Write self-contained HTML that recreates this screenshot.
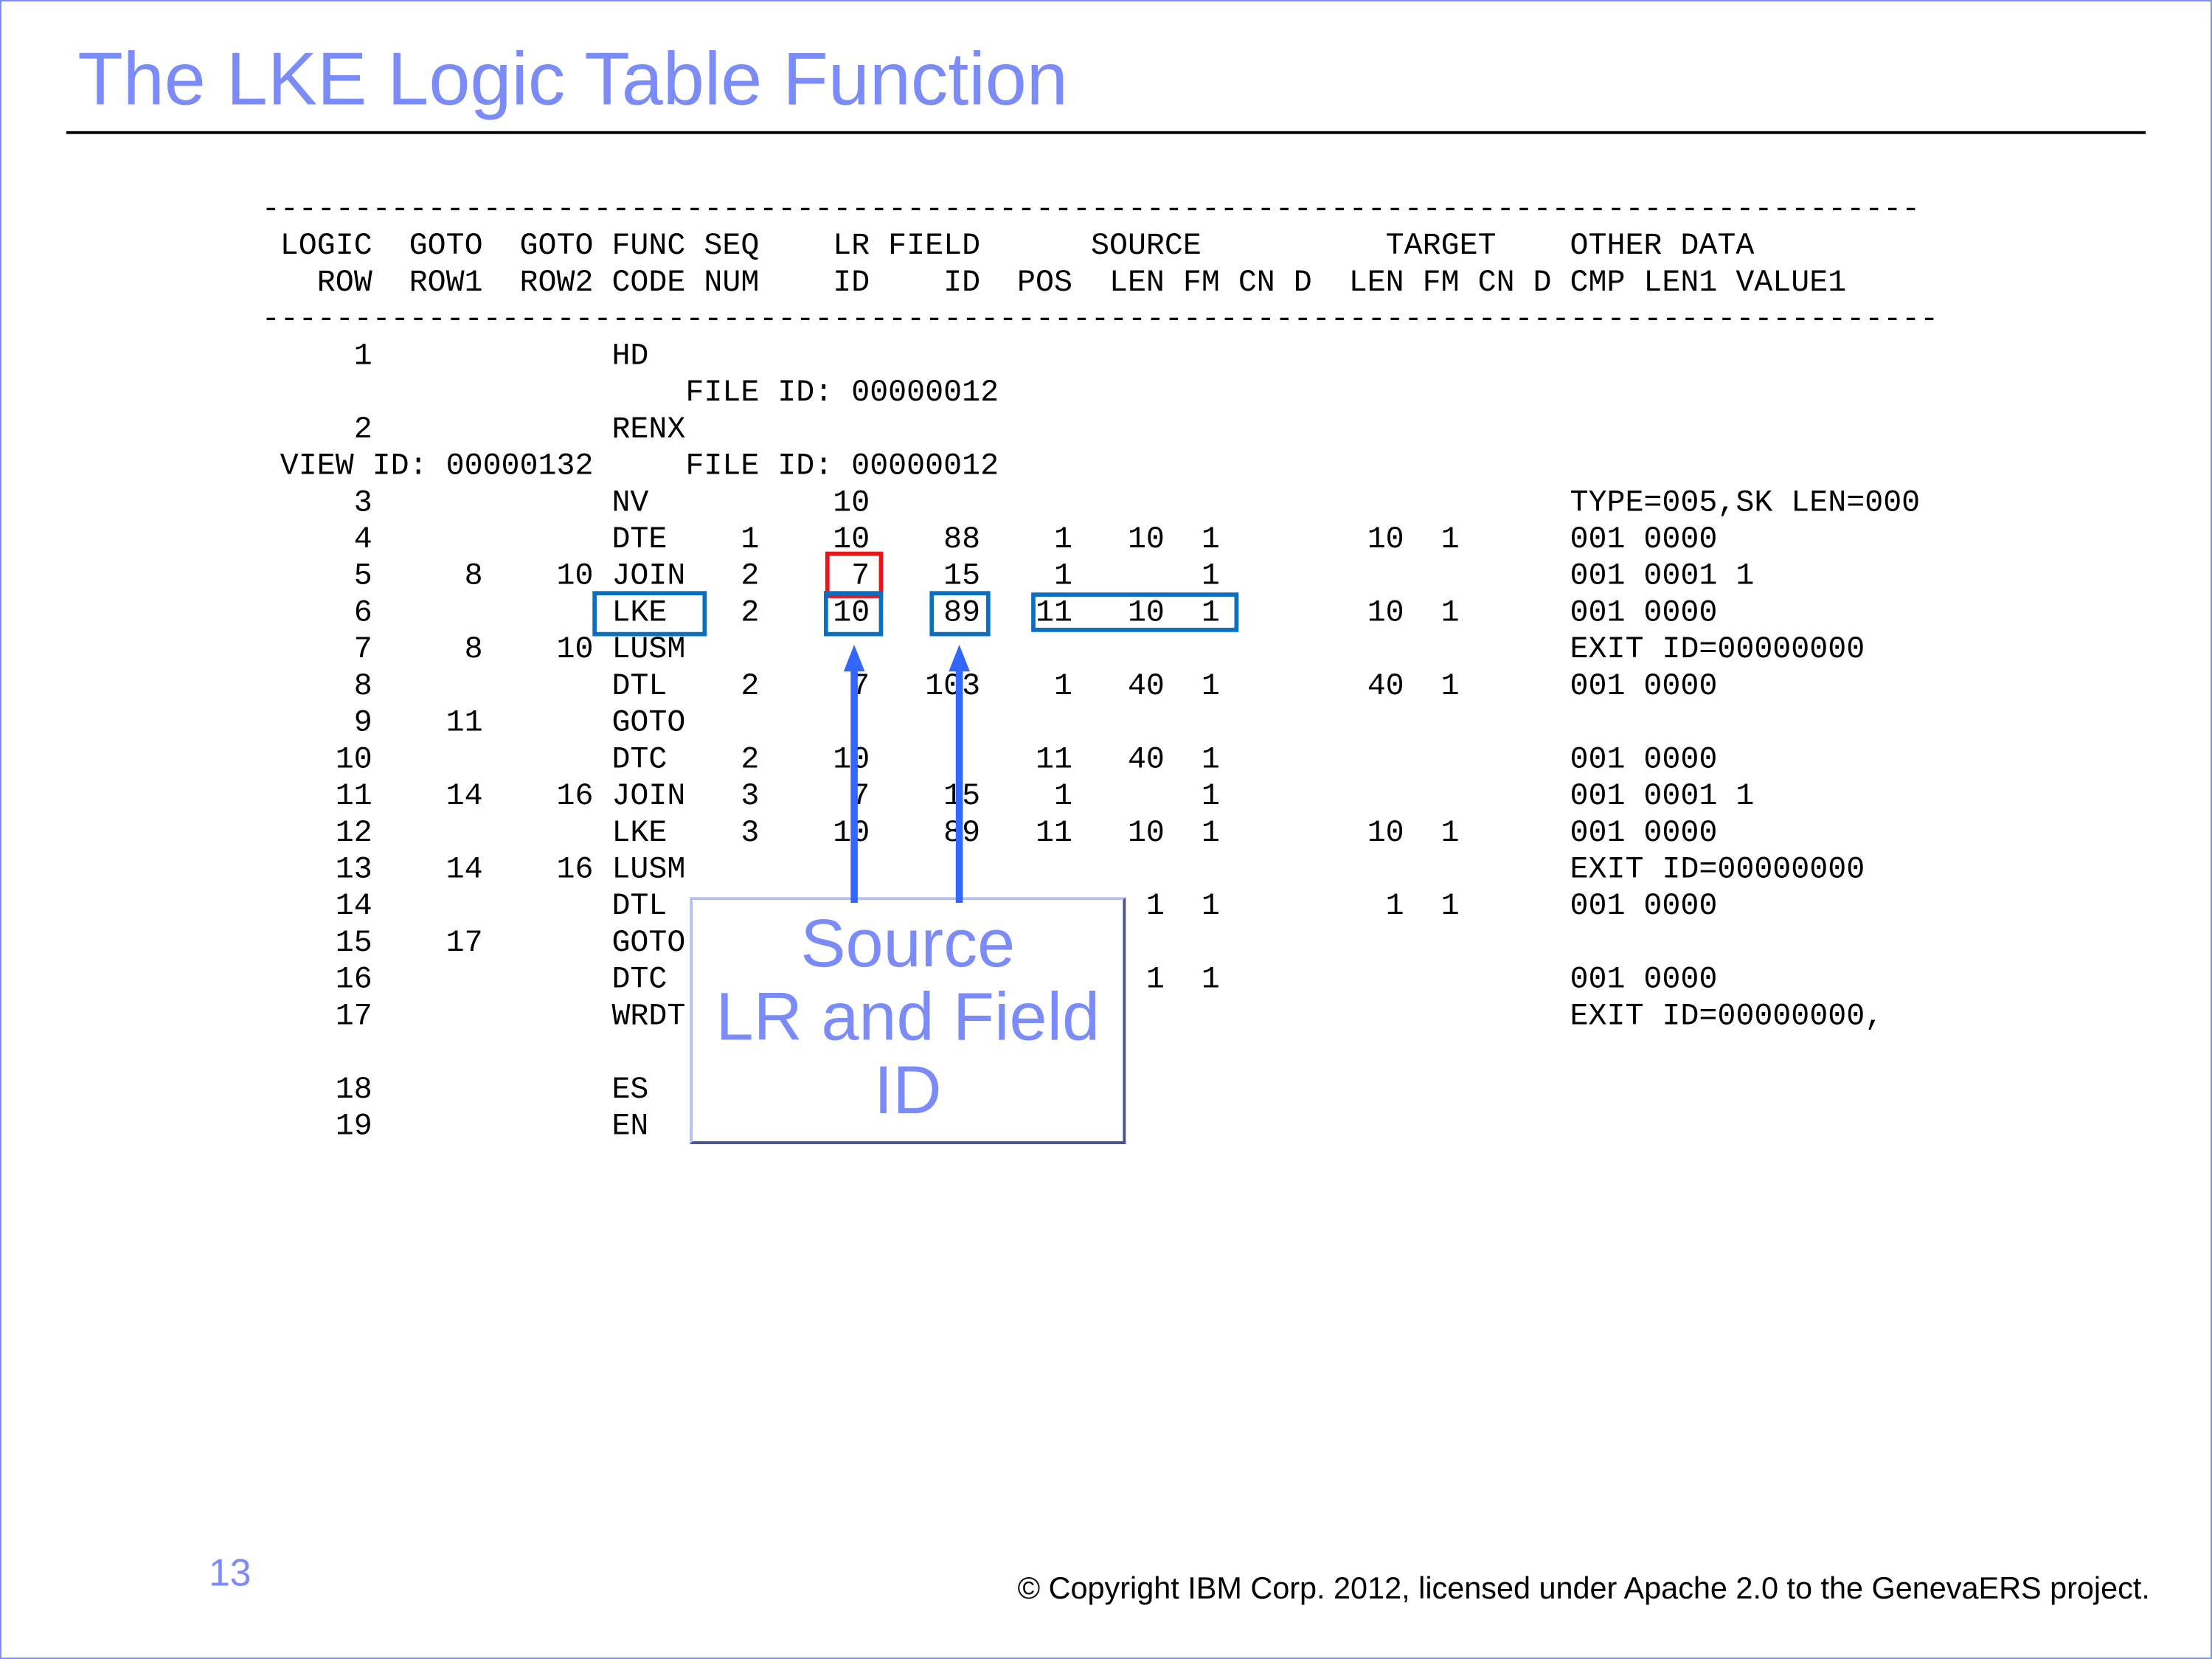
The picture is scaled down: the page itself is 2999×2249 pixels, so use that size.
<!DOCTYPE html>
<html><head><meta charset="utf-8"><style>
html,body{margin:0;padding:0;background:#fff;}
body{width:2999px;height:2249px;overflow:hidden;position:relative;}
#s{position:absolute;left:0;top:0;width:1568px;height:1176px;transform:scale(1.91263,1.91241);transform-origin:0 0;}
.bd{position:absolute;left:0;top:0;width:1566px;height:1174px;border:1px solid #7b8cf8;}
.t{position:absolute;left:55px;top:22px;font:52.7px "Liberation Sans",sans-serif;color:#7b8cf8;white-space:nowrap;line-height:70px;}
.hl{position:absolute;left:47px;top:93px;width:1474px;height:2px;background:#000;}
pre{position:absolute;left:185.5px;top:136px;margin:0;font:21.77px/26px "Liberation Mono",monospace;color:#000;}
.b{position:absolute;box-sizing:border-box;border:3px solid #0a6fc0;}
.r{border-color:#e8161b;}
.call{position:absolute;left:489px;top:636px;width:309px;height:175px;box-sizing:border-box;background:#fff;border-left:2px solid #b6bef6;border-top:2px solid #b6bef6;border-right:2px solid #4a5090;border-bottom:2px solid #4a5090;text-align:center;font:48px/52px "Liberation Sans",sans-serif;color:#7b8cf8;padding-top:6px;}
.f1{position:absolute;left:148px;top:1100px;font:27px "Liberation Sans",sans-serif;color:#7b8cf8;}
.f2{position:absolute;right:44px;top:1113px;font:21.65px "Liberation Sans",sans-serif;color:#000;white-space:nowrap;}
</style></head><body><div id="s">
<div class="bd"></div>
<div class="t">The LKE Logic Table Function</div>
<div class="hl"></div>
<pre>------------------------------------------------------------------------------------------
 LOGIC  GOTO  GOTO FUNC SEQ    LR FIELD      SOURCE          TARGET    OTHER DATA
   ROW  ROW1  ROW2 CODE NUM    ID    ID  POS  LEN FM CN D  LEN FM CN D CMP LEN1 VALUE1
-------------------------------------------------------------------------------------------
     1             HD
                       FILE ID: 00000012
     2             RENX
 VIEW ID: 00000132     FILE ID: 00000012
     3             NV          10                                      TYPE=005,SK LEN=000
     4             DTE    1    10    88    1   10  1        10  1      001 0000
     5     8    10 JOIN   2     7    15    1       1                   001 0001 1
     6             LKE    2    10    89   11   10  1        10  1      001 0000
     7     8    10 LUSM                                                EXIT ID=00000000
     8             DTL    2     7   103    1   40  1        40  1      001 0000
     9    11       GOTO
    10             DTC    2    10         11   40  1                   001 0000
    11    14    16 JOIN   3     7    15    1       1                   001 0001 1
    12             LKE    3    10    89   11   10  1        10  1      001 0000
    13    14    16 LUSM                                                EXIT ID=00000000
    14             DTL                          1  1         1  1      001 0000
    15    17       GOTO
    16             DTC                          1  1                   001 0000
    17             WRDT                                                EXIT ID=00000000,

    18             ES
    19             EN</pre>
<div class="b r" style="left:585px;top:391px;width:41px;height:33px;"></div>
<div class="b" style="left:420px;top:419px;width:81px;height:32px;"></div>
<div class="b" style="left:584px;top:419px;width:42px;height:32px;"></div>
<div class="b" style="left:659px;top:419px;width:43px;height:32px;"></div>
<div class="b" style="left:731px;top:420px;width:147px;height:28px;"></div>
<div class="call">Source<br>LR and Field<br>ID</div>
<svg style="position:absolute;left:0;top:0" width="1568" height="1176">
<g fill="#3366ff" stroke="none">
<rect x="603" y="470" width="5" height="170"/>
<polygon points="605.5,457 598,476 613,476"/>
<rect x="677.5" y="470" width="5" height="170"/>
<polygon points="680,457 672.5,476 687.5,476"/>
</g></svg>
<div class="f1">13</div>
<div class="f2">© Copyright IBM Corp. 2012, licensed under Apache 2.0 to the GenevaERS project.</div>
</div></body></html>
